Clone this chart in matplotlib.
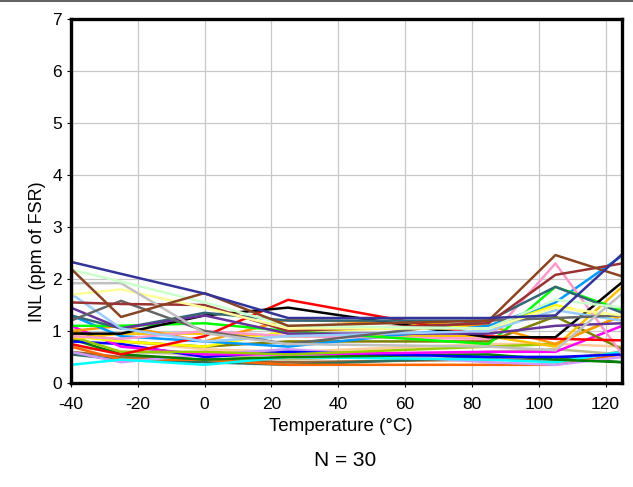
import matplotlib
matplotlib.use('Agg')
import matplotlib.pyplot as plt
from matplotlib.lines import Line2D

plt.rcParams['font.family'] = ['Liberation Sans', 'DejaVu Sans']
plt.rcParams['axes.unicode_minus'] = False

temps = [-40, -25, 0, 25, 85, 105, 125]

# INL per device (ppm of FSR)
navy      = [2.33, 2.10, 1.72, 1.25, 1.25, 1.30, 2.48]
brown     = [2.20, 1.27, 1.73, 1.10, 1.20, 2.46, 2.05]
mint      = [2.18, 1.95, 1.55, 1.10, 1.05, 1.60, 1.45]
silver    = [1.92, 1.92, 0.96, 0.75, 0.70, 0.63, 1.72]
lemon     = [1.70, 1.80, 1.45, 1.05, 1.05, 1.45, 1.30]
maroon    = [1.55, 1.52, 1.50, 1.00, 1.15, 2.08, 2.30]
dimgray   = [1.20, 1.58, 1.00, 0.75, 1.20, 1.25, 1.30]
skyblue   = [1.72, 1.05, 0.80, 0.90, 1.00, 1.40, 1.20]
purple    = [1.45, 1.05, 1.30, 0.95, 0.95, 1.10, 1.15]
slate     = [1.30, 1.05, 1.35, 1.20, 1.20, 1.85, 1.35]
black     = [0.95, 0.95, 1.30, 1.45, 0.88, 0.88, 1.94]
red       = [0.75, 0.55, 0.90, 1.60, 0.90, 0.85, 0.82]
green     = [1.10, 1.10, 1.15, 1.00, 0.75, 1.85, 1.40]
pink      = [0.90, 0.85, 1.00, 0.90, 0.85, 2.30, 0.55]
azure     = [1.30, 0.90, 0.80, 0.70, 1.10, 1.55, 2.45]
orange    = [1.00, 1.10, 0.80, 1.22, 1.10, 0.75, 1.30]
yellow    = [0.90, 0.80, 0.70, 1.00, 1.10, 1.50, 1.20]
gold      = [0.85, 0.95, 0.95, 0.90, 0.90, 0.70, 1.85]
olive     = [1.00, 0.80, 0.70, 0.80, 0.80, 1.28, 0.65]
yellowgrn = [0.90, 0.60, 0.60, 0.55, 0.70, 0.75, 1.30]
magenta   = [1.10, 0.70, 0.55, 0.55, 0.60, 0.60, 1.10]
blue      = [0.80, 0.75, 0.50, 0.60, 0.50, 0.50, 0.55]
dkgreen   = [0.85, 0.55, 0.45, 0.50, 0.55, 0.45, 0.40]
cyan      = [0.35, 0.45, 0.35, 0.50, 0.45, 0.40, 0.60]
lavender  = [0.60, 0.40, 0.55, 0.65, 0.40, 0.35, 0.50]
dkorange  = [0.70, 0.45, 0.45, 0.35, 0.35, 0.35, 0.55]
peach     = [0.95, 0.80, 0.65, 0.60, 0.75, 0.75, 0.70]
teal      = [0.55, 0.45, 0.40, 0.35, 0.50, 0.50, 0.40]
khaki     = [0.70, 0.60, 0.55, 0.45, 0.60, 0.65, 0.55]
tan       = [0.60, 0.50, 0.45, 0.40, 0.45, 0.45, 0.60]

series = [
    (tan, '#996633'), (khaki, '#bdbd8a'), (teal, '#2f6f5f'), (peach, '#ffcc99'),
    (dkorange, '#ff6600'), (lavender, '#cc99ff'), (cyan, '#00ffff'),
    (dkgreen, '#008000'), (blue, '#0000ff'), (magenta, '#ff00ff'),
    (yellowgrn, '#99cc00'), (olive, '#808000'), (gold, '#ffc000'),
    (yellow, '#ffff00'), (orange, '#ff9900'), (azure, '#0099ff'),
    (pink, '#ff99cc'), (green, '#00ff00'), (red, '#ff0000'), (black, '#000000'),
    (slate, '#336677'), (purple, '#663399'), (skyblue, '#99ccff'),
    (dimgray, '#666666'), (maroon, '#993333'), (lemon, '#ffff99'),
    (silver, '#c0c0c0'), (mint, '#ccffcc'), (brown, '#8b4422'), (navy, '#333399'),
]

fig = plt.figure(figsize=(6.33, 4.87), dpi=100)
ax = fig.add_axes([0.112, 0.2135, 0.871, 0.7475])

for vals, col in series:
    ax.plot(temps, vals, color=col, lw=1.8)

ax.set_xlim(-40, 125)
ax.set_ylim(0, 7)
ax.set_xticks(range(-40, 121, 20))
ax.set_yticks(range(0, 8))
ax.grid(True, color='#c8c8c8', lw=0.9)
ax.set_axisbelow(True)
for s in ax.spines.values():
    s.set_linewidth(2.4)
ax.tick_params(labelsize=12.5, length=3, width=0.8)
ax.tick_params(axis='x', pad=7)
ax.set_xlabel('Temperature (°C)', fontsize=13.5, labelpad=1)
ax.set_ylabel('INL (ppm of FSR)', fontsize=13)
ax.xaxis.set_label_coords(0.49, -0.095)
ax.yaxis.set_label_coords(-0.045, 0.36)

fig.text(0.545, 0.044, 'N = 30', ha='center', fontsize=15)
fig.add_artist(Line2D([0, 1], [0.997, 0.997], color='#444444', lw=1.2, transform=fig.transFigure))

fig.savefig('out.png', dpi=100)
